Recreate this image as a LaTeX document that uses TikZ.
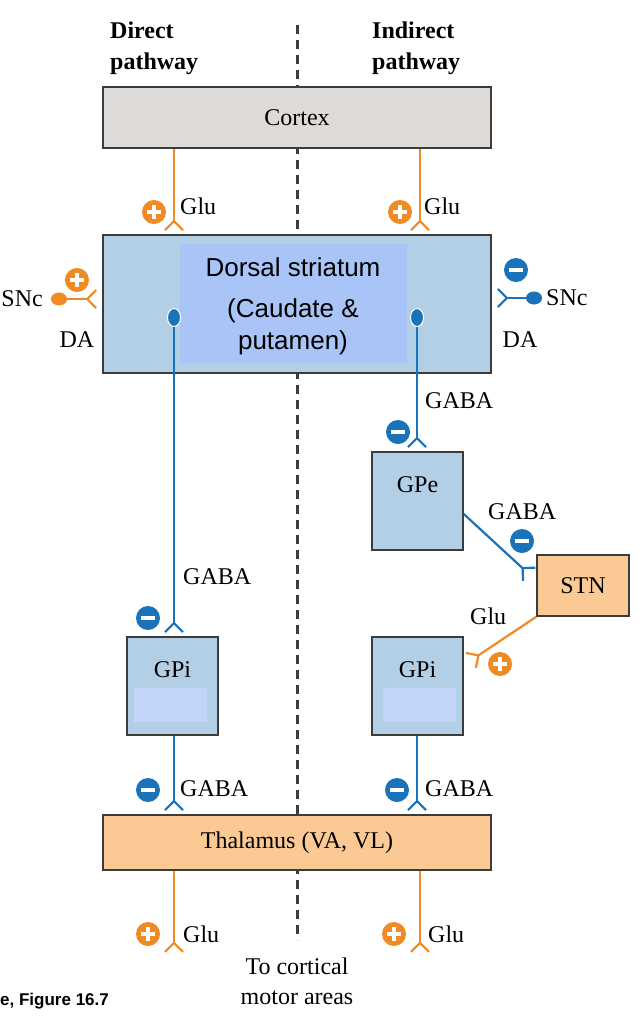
\documentclass[tikz,border=0pt]{standalone}
\usepackage{fontspec}
\setmainfont{Liberation Serif}
\setsansfont{Liberation Sans}
\usetikzlibrary{arrows.meta}
\definecolor{glu}{HTML}{F08A24}
\definecolor{gaba}{HTML}{1A72BA}
\definecolor{bluebox}{HTML}{B3CFE6}
\definecolor{bluein}{HTML}{A9C5F7}
\definecolor{gpiin}{HTML}{C3D5FB}
\definecolor{orangebox}{HTML}{FBC994}
\definecolor{graybox}{HTML}{DDDAD8}
\definecolor{edge}{HTML}{3C3C3C}
\tikzset{
  txt/.style={font=\fontsize{24}{30}\selectfont, inner sep=0pt},
  region/.style={draw=edge, line width=1.5pt, inner sep=0pt, font=\fontsize{24}{30}\selectfont},
  fork/.style={line width=2.2pt, -{Straight Barb[reversed, length=9pt, width=18pt]}},
  ballfork/.style={line width=2.2pt, {Ellipse[length=16pt, width=13pt]}-{Straight Barb[reversed, length=9pt, width=18pt]}},
  knobfork/.style={line width=2.2pt, {Ellipse[length=19pt, width=14pt, fill=gaba, color=white, line width=1pt]}-{Straight Barb[reversed, length=9pt, width=18pt]}},
  excit/.style={circle, fill=glu, minimum size=24pt, inner sep=0pt,
    path picture={\draw[white, line width=3.5pt]
      ([xshift=-7pt]path picture bounding box.center) -- ([xshift=7pt]path picture bounding box.center)
      ([yshift=-7pt]path picture bounding box.center) -- ([yshift=7pt]path picture bounding box.center);}},
  inhib/.style={circle, fill=gaba, minimum size=24pt, inner sep=0pt,
    path picture={\draw[white, line width=3.5pt]
      ([xshift=-7pt]path picture bounding box.center) -- ([xshift=7pt]path picture bounding box.center);}},
}
\begin{document}
\begin{tikzpicture}[x=1pt, y=-1pt]
  \useasboundingbox (0,0) rectangle (638,1020);

  % midline
  \draw[edge, line width=3pt, dash pattern=on 9pt off 6pt] (297,25) -- (297,940);

  % regions
  \node[region, fill=graybox, minimum width=388pt, minimum height=61pt] (cortex) at (297,117.5) {Cortex};
  \node[region, fill=bluebox, minimum width=388pt, minimum height=138pt] (stri) at (297,304) {};
  \node[fill=bluein, minimum width=227pt, minimum height=119pt, inner sep=0pt] (striin) at (293.5,303.5) {};
  \node[align=center, font=\sffamily\fontsize{26}{32}\selectfont] (stritext) at (293,306)
    {Dorsal striatum\\[9pt](Caudate \&\\putamen)};
  \node[region, fill=bluebox, minimum width=91pt, minimum height=98pt,
    label={[anchor=north, yshift=-22pt, font=\fontsize{24}{30}\selectfont]north:GPe}] (gpe) at (417.5,501) {};
  \node[region, fill=orangebox, minimum width=92pt, minimum height=61pt] (stn) at (583,585.5) {STN};
  \node[region, fill=bluebox, minimum width=91pt, minimum height=98pt,
    label={[anchor=north, yshift=-22pt, font=\fontsize{24}{30}\selectfont]north:GPi}] (gpiL) at (172.5,686) {};
  \node[fill=gpiin, minimum width=73pt, minimum height=34pt, inner sep=0pt] (gpiLin) at (170.5,705) {};
  \node[region, fill=bluebox, minimum width=91pt, minimum height=98pt,
    label={[anchor=north, yshift=-22pt, font=\fontsize{24}{30}\selectfont]north:GPi}] (gpiR) at (417.5,686) {};
  \node[fill=gpiin, minimum width=73pt, minimum height=34pt, inner sep=0pt] (gpiRin) at (419.5,705) {};
  \node[region, fill=orangebox, minimum width=388pt, minimum height=55pt] (thal) at (297,842.5) {Thalamus (VA, VL)};

  % headings
  \node[txt, font=\bfseries\fontsize{24}{31}\selectfont, align=left, anchor=north west] (hdir) at (110,22) {Direct\\pathway};
  \node[txt, font=\bfseries\fontsize{24}{31}\selectfont, align=left, anchor=north west] (hind) at (372,22) {Indirect\\pathway};

  % free ends
  \coordinate (colL) at (174,0);
  \coordinate (colR) at (420,0);
  \coordinate (sncL) at (51,299);
  \coordinate (sncR) at (542,298);
  \coordinate (knobL) at (174,308);
  \coordinate (knobR) at (417,308);
  \coordinate (stnin) at (530,575);
  \coordinate (gpiRtip) at (470,661);
  \coordinate (outL) at (174,953);
  \coordinate (outR) at (420,953);

  % cortex -> striatum
  \draw[glu, fork, shorten >=3pt] (colL |- cortex.south) -- (colL |- stri.north);
  \draw[glu, fork, shorten >=3pt] (colR |- cortex.south) -- (colR |- stri.north);
  \node[excit] (pc1) at (154,212) {};
  \node[excit] (pc2) at (400,212) {};
  \node[txt, anchor=west] (gc1) at (180,206) {Glu};
  \node[txt, anchor=west] (gc2) at (424,206) {Glu};

  % SNc
  \draw[glu, ballfork, shorten >=5pt] (sncL) -- (sncL -| stri.west);
  \draw[gaba, ballfork, shorten >=5pt] (sncR) -- (sncR -| stri.east);
  \node[excit] (ps) at (77,280) {};
  \node[inhib] (ms) at (516,270) {};
  \node[txt, anchor=east] (snc1) at (43,299) {SNc};
  \node[txt] (da1) at (77,340) {DA};
  \node[txt, anchor=west] (snc2) at (546,298) {SNc};
  \node[txt] (da2) at (520,340) {DA};

  % striatum outputs
  \draw[gaba, knobfork, shorten >=3pt] (knobL) -- (knobL |- gpiL.north);
  \draw[gaba, knobfork, shorten >=3pt] (knobR) -- (knobR |- gpe.north);
  \node[txt, anchor=west] (gs1) at (183,577) {GABA};
  \node[inhib] (ms1) at (148,618) {};
  \node[txt, anchor=west] (gs2) at (425,401) {GABA};
  \node[inhib] (ms2) at (398,432) {};

  % GPe -> STN -> GPi
  \draw[gaba, fork] ([yshift=-13pt]gpe.east) -- (stnin);
  \node[txt, anchor=west] (ge) at (488,512) {GABA};
  \node[inhib] (me) at (522,541) {};
  \draw[glu, fork] (stn.south west) -- (gpiRtip);
  \node[txt, anchor=west] (gn) at (470,616) {Glu};
  \node[excit] (pn) at (500,664) {};

  % GPi -> thalamus
  \draw[gaba, fork, shorten >=3pt] (gpiL.south -| colL) -- (colL |- thal.north);
  \draw[gaba, fork, shorten >=3pt] (gpiR.south -| knobR) -- (knobR |- thal.north);
  \node[inhib] (mt1) at (148,790) {};
  \node[inhib] (mt2) at (397,790) {};
  \node[txt, anchor=west] (gt1) at (180,789) {GABA};
  \node[txt, anchor=west] (gt2) at (425,789) {GABA};

  % thalamus -> cortex
  \draw[glu, fork] (colL |- thal.south) -- (outL);
  \draw[glu, fork] (colR |- thal.south) -- (outR);
  \node[excit] (po1) at (148,934) {};
  \node[excit] (po2) at (394,934) {};
  \node[txt, anchor=west] (go1) at (183,934) {Glu};
  \node[txt, anchor=west] (go2) at (428,934) {Glu};
  \node[txt, align=center] (motor) at (297,981) {To cortical\\motor areas};

  \node[anchor=west, inner sep=0pt, font=\sffamily\bfseries\fontsize{17}{20}\selectfont] (fig) at (0,1001) {e, Figure 16.7};
\end{tikzpicture}
\end{document}
